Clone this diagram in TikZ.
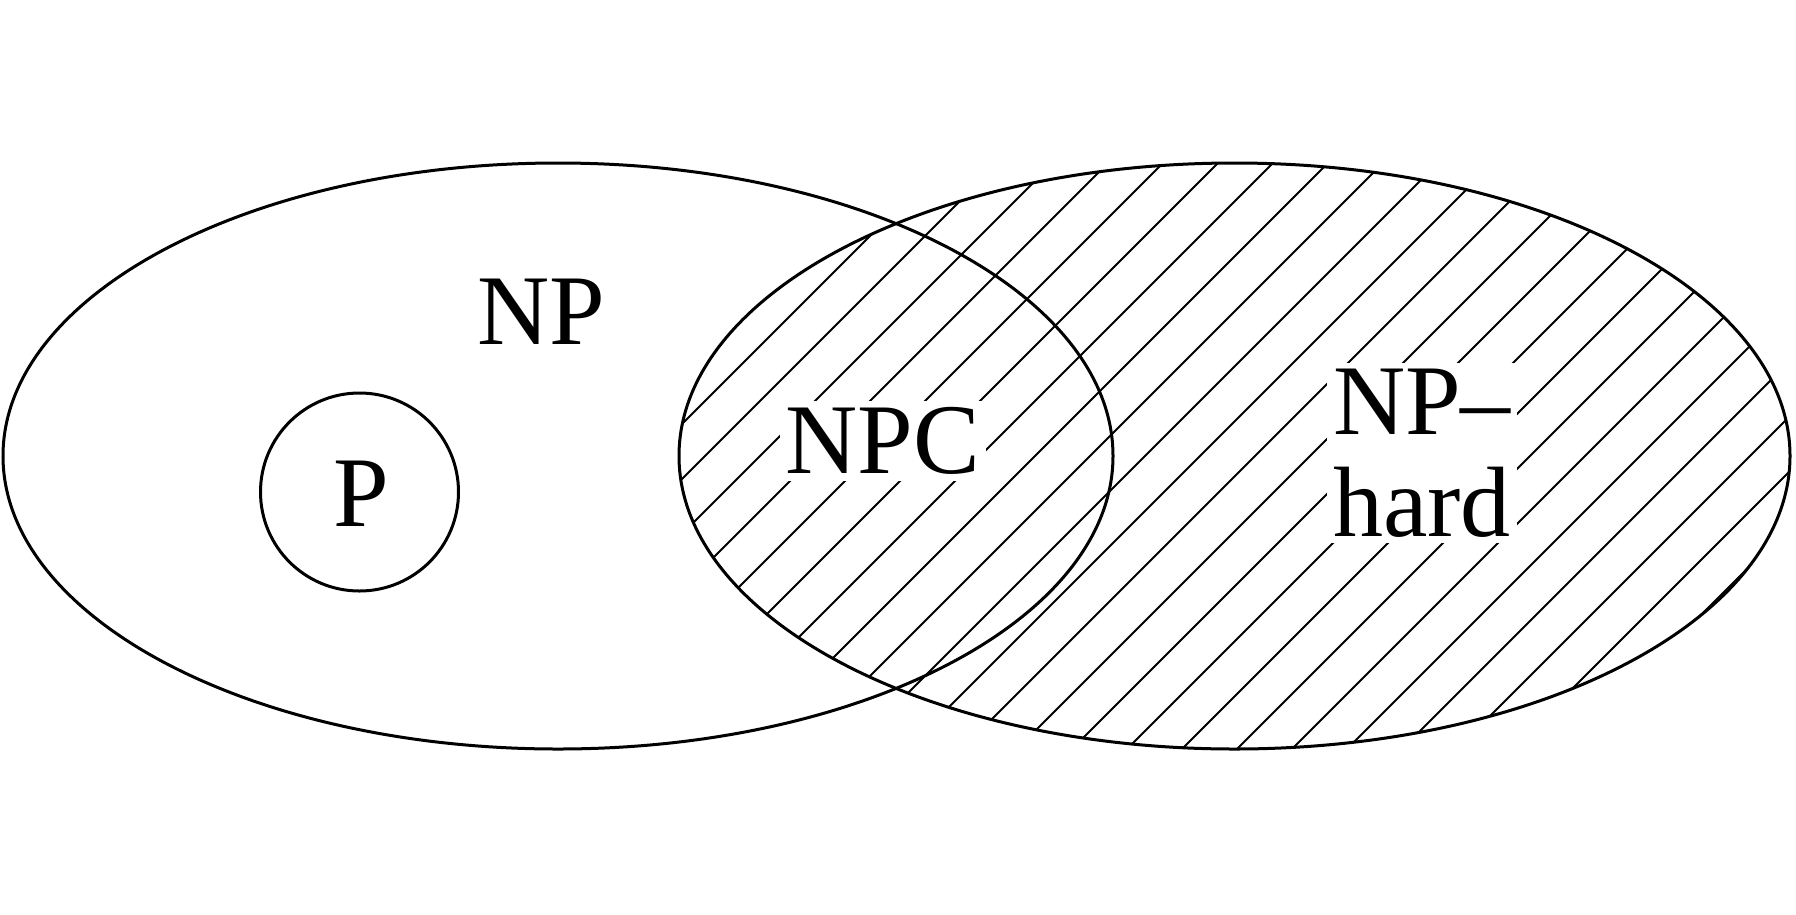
\documentclass[tikz,border=0pt]{standalone}
\usepackage{fontspec}
\setmainfont{Liberation Serif}
\begin{document}
\begin{tikzpicture}[x=1pt,y=-1pt,
  setline/.style={line width=3pt,black},
  hatchline/.style={line width=1.9pt,black},
  lbl/.style={font=\fontsize{100}{102}\selectfont,inner sep=0pt},
  boxlbl/.style={lbl,fill=white,inner sep=6pt,align=center}]
\useasboundingbox (0,0) rectangle (1796,914);
% hatching of NP-hard
\begin{scope}
  \clip (1234.5,456) ellipse [x radius=555.5pt, y radius=293pt];
  \foreach \k in {-15,...,9}{
    \pgfmathsetmacro\c{1876+55*\k}
    \draw[hatchline] (\c-60,60) -- (\c-860,860);
  }
\end{scope}
% labels with white boxes in the hatched area
\node[boxlbl] (npc) at (883,441) {NPC};
\node[boxlbl] (nphard) at (1422,453) {NP–\\hard};
% outlines
\draw[setline] (558,456) ellipse [x radius=555pt, y radius=293pt];
\draw[setline] (1234.5,456) ellipse [x radius=555.5pt, y radius=293pt];
\draw[setline] (359.5,492) circle [radius=99pt];
% other labels
\node[lbl,anchor=base] (np) at (541,344) {NP};
\node[lbl] (p) at (361,494) {P};
\end{tikzpicture}
\end{document}
